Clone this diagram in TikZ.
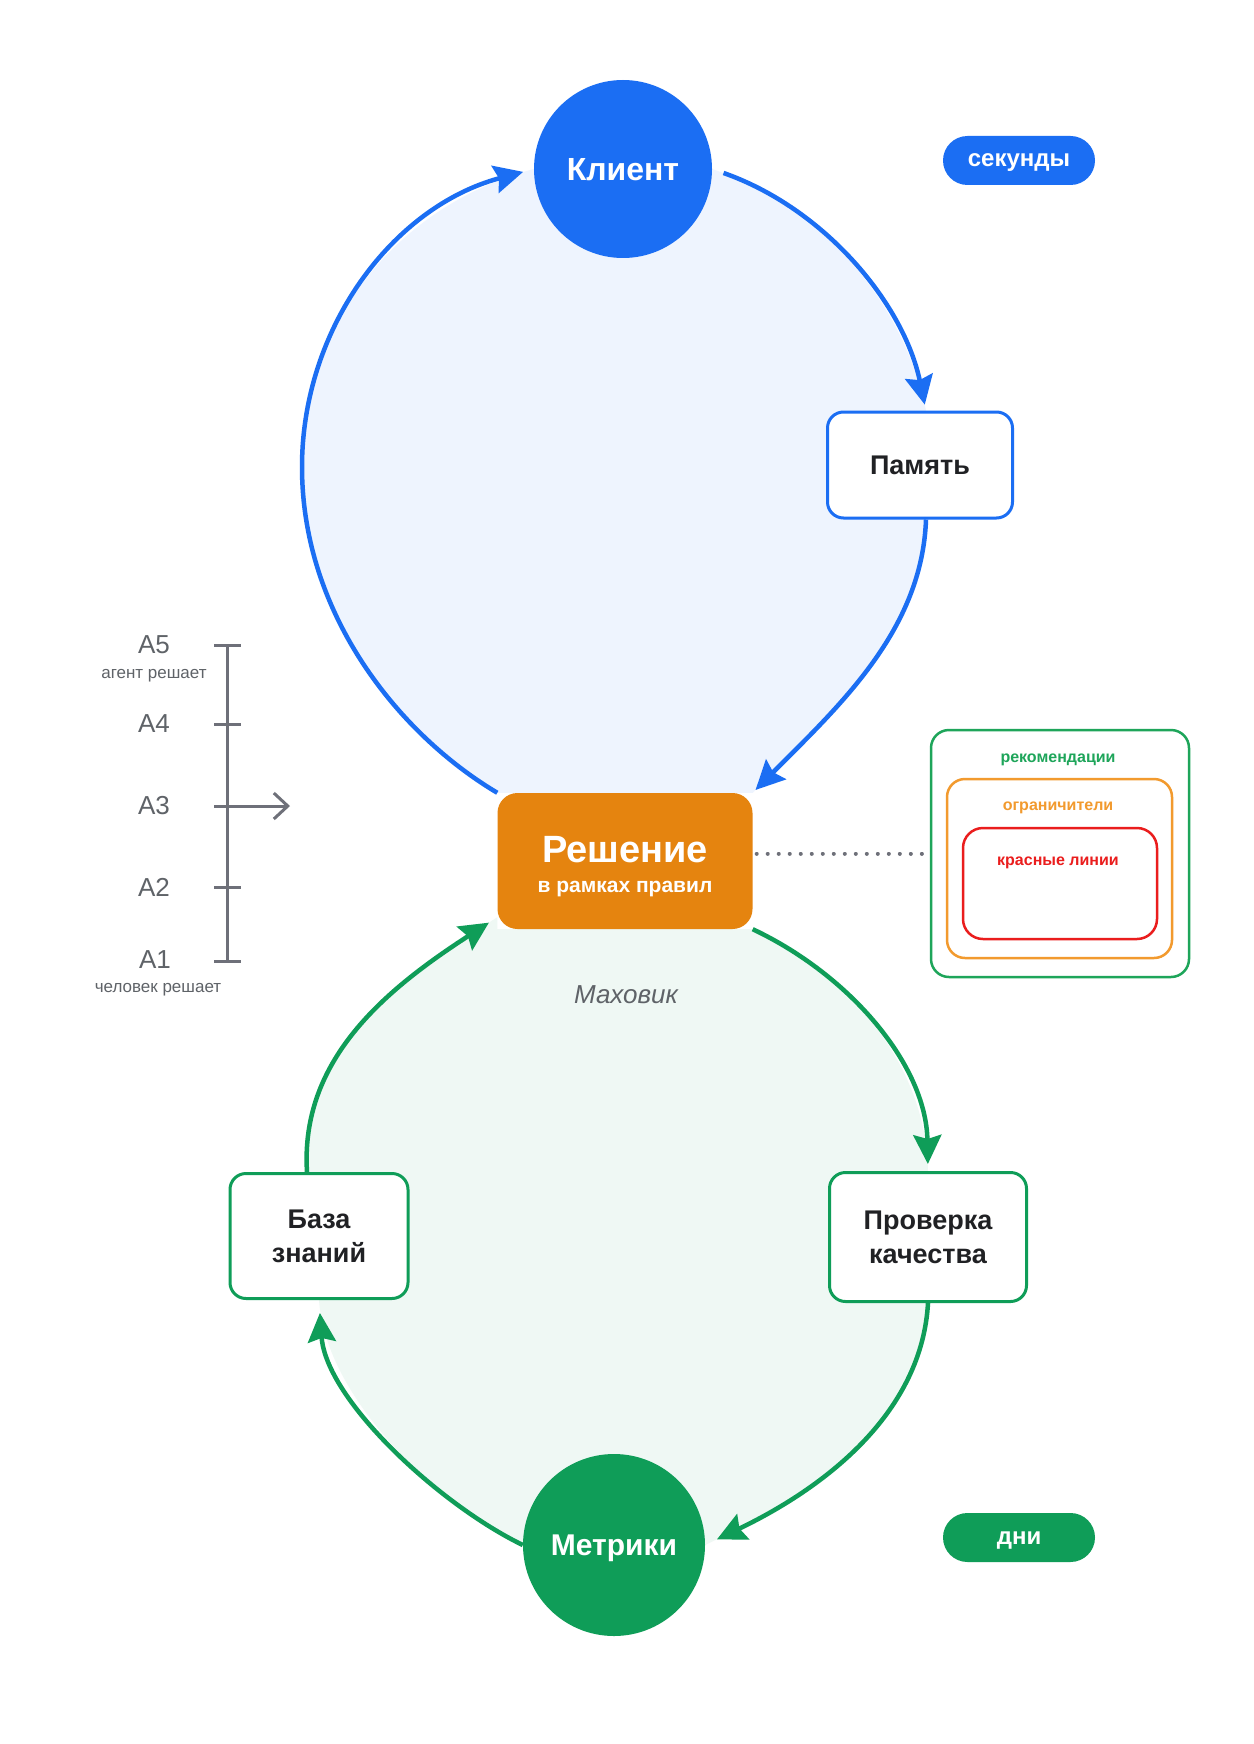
\documentclass[tikz,border=0pt]{standalone}
\usepackage{fontspec}
\setmainfont{Liberation Sans}
\usetikzlibrary{arrows.meta}
\pgfdeclarelayer{back}
\pgfdeclarelayer{mid}
\pgfsetlayers{back,mid,main}
\definecolor{gblue}{HTML}{1B6EF3}
\definecolor{ggreen}{HTML}{0F9D58}
\definecolor{gorange}{HTML}{E5840F}
\definecolor{bluefill}{HTML}{EEF4FE}
\definecolor{greenfill}{HTML}{EFF8F4}
\definecolor{ink}{HTML}{202124}
\definecolor{scalegray}{HTML}{6E7079}
\definecolor{lblgray}{HTML}{5F6368}
\definecolor{rlgreen}{HTML}{1EA55A}
\definecolor{rlorange}{HTML}{F29A2E}
\definecolor{rlred}{HTML}{EA1D1D}
\begin{document}
\begin{tikzpicture}[x=1pt,y=-1pt,
  loopline/.style={line width=4.5pt, -{Stealth[length=29pt,width=28pt,inset=4pt]}},
  bluearr/.style={loopline, draw=gblue},
  greenarr/.style={loopline, draw=ggreen},
  bigcirc/.style={circle, minimum size=178pt, inner sep=0pt, text=white, text depth=0pt, font=\bfseries\fontsize{32}{38}\selectfont},
  stepbox/.style={rectangle, rounded corners=16pt, fill=white, line width=3pt, text=ink, align=center, font=\bfseries\fontsize{27}{34}\selectfont, inner sep=0pt},
  pill/.style={rectangle, rounded corners=24.5pt, minimum width=152pt, minimum height=49pt, text=white, text height=13pt, text depth=0pt, font=\bfseries\fontsize{24}{28}\selectfont, inner sep=0pt},
  scalelbl/.style={text=lblgray, font=\fontsize{26}{30}\selectfont, inner sep=0pt},
  scalenote/.style={text=lblgray, font=\fontsize{17}{20}\selectfont, inner sep=0pt, anchor=base},
  scaleline/.style={draw=scalegray, line width=3pt},
  zone/.style={rectangle, fill=white, line width=2.5pt, inner sep=0pt},
  zonelbl/.style={font=\bfseries\fontsize{16}{19}\selectfont, inner sep=0pt, anchor=base},
]
\useasboundingbox (0,0) rectangle (1253,1744);

% main nodes
\node[bigcirc, fill=gblue] (klient) at (623,169) {Клиент};
\node[stepbox, draw=gblue, minimum width=185pt, minimum height=106pt] (pam) at (920,465) {Память};
\node[rectangle, rounded corners=20pt, fill=gorange, minimum width=255pt, minimum height=136pt, text=white, align=center, inner sep=0pt, text height=67pt, text depth=4pt, font=\bfseries\fontsize{21}{30}\selectfont] (resh) at (625,861) {{\fontsize{38}{30}\selectfont Решение}\\в рамках правил};
\node[stepbox, draw=ggreen, minimum width=178pt, minimum height=125pt] (bas) at (319,1236) {База\\знаний};
\node[stepbox, draw=ggreen, minimum width=197pt, minimum height=129pt] (pro) at (928,1237) {Проверка\\качества};
\node[bigcirc, fill=ggreen, minimum size=182pt, font=\bfseries\fontsize{30}{36}\selectfont] (metr) at (614,1545) {Метрики};

\node[pill, fill=gblue] (sek) at (1019,160.5) {секунды};
\node[pill, fill=ggreen] (dni) at (1019,1537.5) {дни};

\node[text=lblgray, font=\itshape\fontsize{26}{30}\selectfont, inner sep=0pt, anchor=base] (mah) at (626,1003) {Маховик};

% nested zones
\node[zone, draw=rlgreen, rounded corners=18pt, minimum width=258pt, minimum height=247pt] (rec) at (1060,853.5) {};
\node[zone, draw=rlorange, rounded corners=18pt, minimum width=225pt, minimum height=179pt] (lim) at (1059.5,868.5) {};
\node[zone, draw=rlred, rounded corners=20pt, minimum width=194pt, minimum height=111pt] (red) at (1060,883.5) {};
\node[zonelbl, text=rlgreen] (recl) at (1058,762.5) {рекомендации};
\node[zonelbl, text=rlorange] (liml) at (1058,810) {ограничители};
\node[zonelbl, text=rlred] (redl) at (1058,865.5) {красные линии};

% scale
\coordinate (s5) at (227,645);
\coordinate (s4) at (227,724);
\coordinate (s3) at (227,806);
\coordinate (s2) at (227,887);
\coordinate (s1) at (227,961);
\coordinate (s3end) at (290,806);
\draw[scaleline] (s5) -- (s1);
\foreach \s in {s1,s2,s4,s5} \draw[scaleline] ([xshift=-13pt]\s) -- ([xshift=14pt]\s);
\draw[scaleline, -{Straight Barb[length=14pt,width=26pt]}] ([xshift=-13pt]s3) -- (s3end);
\node[scalelbl] (lA5) at (154,645) {A5};
\node[scalelbl] (lA4) at (154,724) {A4};
\node[scalelbl] (lA3) at (154,806) {A3};
\node[scalelbl] (lA2) at (154,887) {A2};
\node[scalelbl] (lA1) at (155,960) {A1};
\node[scalenote] (nA5) at (154,678) {агент решает};
\node[scalenote] (nA1) at (158,992.5) {человек решает};

% loop fills
\begin{pgfonlayer}{back}
\fill[white] (0,0) rectangle (1253,1744);
\fill[bluefill] (resh.north west) .. controls (400,735) and (302,615) .. (302,467)
  .. controls (302,329) and (392,207) .. (klient.west) -- (klient.east)
  .. controls (826,209) and (904,305) .. ([xshift=6pt]pam.north) -- ([xshift=6pt]pam.south)
  .. controls (922,630) and (840,705) .. (resh.north east) -- cycle;
\fill[greenfill] (resh.south east) .. controls (850,975) and (926,1065) .. (pro.north) -- (pro.south)
  .. controls (922,1410) and (830,1485) .. (metr.east) -- (metr.west)
  .. controls (440,1505) and (326,1400) .. (bas.south) -- ([xshift=-12pt]bas.north)
  .. controls (300,1060) and (385,990) .. ([yshift=12pt]resh.south west) -- (resh.south west) -- cycle;
\end{pgfonlayer}

% connectors
\begin{pgfonlayer}{mid}
\draw[bluearr, shorten >=11pt] (resh.north west) .. controls (400,735) and (302,615) .. (302,467)
  .. controls (302,329) and (392,207) .. (klient.west);
\draw[bluearr, shorten <=12pt, shorten >=6pt] (klient.east) .. controls (826,209) and (904,305) .. ([xshift=6pt]pam.north);
\draw[bluearr, shorten >=4pt] ([xshift=6pt]pam.south) .. controls (922,630) and (840,705) .. (resh.north east);
\draw[greenarr, shorten >=7pt] (resh.south east) .. controls (850,975) and (926,1065) .. (pro.north);
\draw[greenarr, shorten >=13pt] (pro.south) .. controls (922,1410) and (830,1485) .. (metr.east);
\draw[greenarr, shorten >=13pt] (metr.west) .. controls (440,1505) and (326,1400) .. (bas.south);
\draw[greenarr, shorten >=10pt] ([xshift=-12pt]bas.north) .. controls (300,1060) and (385,990) .. ([yshift=12pt]resh.south west);
\draw[draw=scalegray, line width=4pt, line cap=round, dash pattern=on 0.01pt off 11pt, shorten <=4pt, shorten >=6pt] (resh.east |- rec.west) -- (rec.west);
\end{pgfonlayer}
\end{tikzpicture}
\end{document}
